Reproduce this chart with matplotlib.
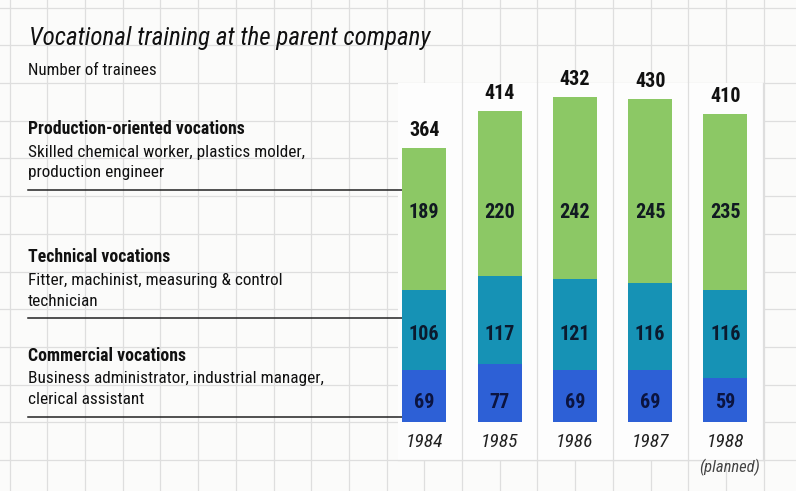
import matplotlib
matplotlib.use('Agg')
import matplotlib.pyplot as plt
import numpy as np

years = ['1984', '1985', '1986', '1987', '1988']
commercial = [69, 77, 69, 69, 59]
technical = [106, 117, 121, 116, 116]
production = [189, 220, 242, 245, 235]

groups = [
    ('Production-oriented vocations', 'Skilled chemical worker, plastics molder,', 'production engineer'),
    ('Technical vocations', 'Fitter, machinist, measuring & control', 'technician'),
    ('Commercial vocations', 'Business administrator, industrial manager,', 'clerical assistant'),
]

GREEN = '#8cc865'
TEAL = '#1692b5'
BLUE = '#2d60d6'
plt.rcParams['font.family'] = ['Roboto Condensed', 'DejaVu Sans']

W, H = 796, 491
fig = plt.figure(figsize=(W / 100, H / 100), dpi=100)
fig.patch.set_facecolor('#fbfbfa')

# background "graph paper", in pixel coordinates
bg = fig.add_axes([0, 0, 1, 1], zorder=0)
bg.set_xlim(0, W)
bg.set_ylim(H, 0)
bg.axis('off')
step = 37.7
for gx in np.arange(462 - step * 13, W, step):
    bg.axvline(gx, color='#dedede', lw=0.9, zorder=0)
for gy in np.arange(460 - step * 12, H, step):
    bg.axhline(gy, color='#dedede', lw=0.9, zorder=0)
# white panel behind the bars
bg.add_patch(plt.Rectangle((398, 83), 365, 377, facecolor='#fdfdfd', edgecolor='none', zorder=1))
for sx in [462, 537.3, 612.6, 687.9, 763.2]:
    bg.plot([sx, sx], [83, 460], color='#dedede', lw=0.9, zorder=2)
bg.plot([398, 763], [460, 460], color='#dedede', lw=0.9, zorder=2)

bg.text(29, 38, 'Vocational training at the parent company', fontsize=18, style='italic',
        va='center', ha='left', color='#111111', zorder=3)
bg.text(28, 70, 'Number of trainees', fontsize=12.2, va='center', ha='left', color='#111111', zorder=3)

label_y = [129, 257, 356]
line_y = [190, 318, 417]
for (head, l1, l2), ty, ly in zip(groups, label_y, line_y):
    bg.text(28, ty, head, fontsize=12.8, fontweight='bold', va='center', ha='left', color='#111111', zorder=3)
    bg.text(28, ty + 23, l1, fontsize=12.4, va='center', ha='left', color='#111111', zorder=3)
    bg.text(28, ty + 44, l2, fontsize=12.4, va='center', ha='left', color='#111111', zorder=3)
    bg.plot([28, 402], [ly, ly], color='#222222', lw=1.1, zorder=3)

# bars
x0, x1 = 386.6, 386.6 + 75.3 * 5
ax = fig.add_axes([x0 / W, (H - 422) / H, (x1 - x0) / W, 376 / H], zorder=2)
ax.patch.set_alpha(0)
ax.set_xlim(-0.5, 4.5)
ax.set_ylim(0, 500)
ax.axis('off')

xs = np.arange(len(years))
bw = 0.585
com = np.array(commercial)
tec = np.array(technical)
pro = np.array(production)
ax.bar(xs, com, bw, color=BLUE, linewidth=0)
ax.bar(xs, tec, bw, bottom=com, color=TEAL, linewidth=0)
ax.bar(xs, pro, bw, bottom=com + tec, color=GREEN, linewidth=0)

totals = com + tec + pro
for i in range(len(years)):
    ax.text(xs[i], totals[i] + 23, str(totals[i]), ha='center', va='center',
            fontsize=14.5, fontweight='bold', color='#111111')
    ax.text(xs[i], 278, str(pro[i]), ha='center', va='center', fontsize=14.5, fontweight='bold', color='#111a22')
    ax.text(xs[i], 117, str(tec[i]), ha='center', va='center', fontsize=14.5, fontweight='bold', color='#0b1a2e')
    ax.text(xs[i], 26, str(com[i]), ha='center', va='center', fontsize=14.5, fontweight='bold', color='#0b1440')
    ax.text(xs[i], -27, years[i], ha='center', va='center', fontsize=14, style='italic', color='#222222')
ax.text(xs[-1] + 0.05, -61, '(planned)', ha='center', va='center', fontsize=12, style='italic', color='#444444')

fig.savefig('out.png', dpi=100, facecolor=fig.get_facecolor())
